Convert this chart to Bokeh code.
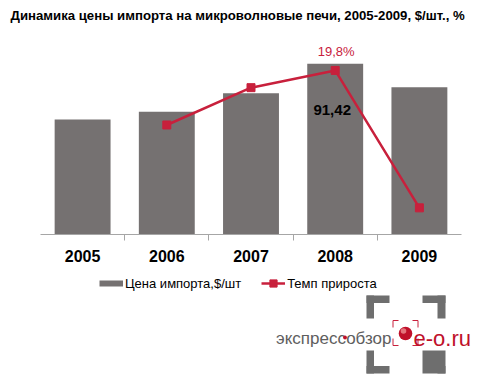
from bokeh.plotting import figure
from bokeh.models import Range1d, FixedTicker, Legend, LegendItem
from bokeh.embed import file_html
from bokeh.resources import INLINE
from bokeh.core.properties import value

# ---- data ----
years = ["2005", "2006", "2007", "2008", "2009"]
price = [61.6, 65.7, 75.7, 91.42, 78.9]          # Цена импорта, $/шт
growth_years = ["2006", "2007", "2008", "2009"]
growth = [6.5, 15.6, 19.8, -13.7]                # Темп прироста, %
title_text = "Динамика цены импорта на микроволновые печи, 2005-2009,  $/шт., %"
series_names = ["Цена импорта,$/шт", "Темп прироста"]

BAR = "#757171"
RED = "#C8203C"
AXIS = "#A6A6A6"
FONT = "Liberation Sans"


def panel(h):
    f = figure(width=480, height=h, x_range=Range1d(0, 480), y_range=Range1d(h, 0),
               output_backend="svg", toolbar_location=None, min_border=0,
               x_axis_location=None, y_axis_location=None, title=None)
    f.outline_line_color = None
    f.xgrid.visible = False
    f.ygrid.visible = False
    return f


# ---- title strip ----
H0 = 30
t = panel(H0)
t.text(x=[10], y=[15], text=[title_text], text_align="left", text_baseline="middle",
       text_font=value(FONT), text_font_size="13.2px", text_font_style="bold",
       text_color="black")

# ---- chart ----
xs = [i + 1 for i in range(len(years))]
gx = [years.index(y) + 1 for y in growth_years]

H1 = 240
p = figure(width=480, height=H1, x_range=Range1d(0.5, len(years) + 0.5),
           y_range=Range1d(0, 103.9), output_backend="svg", toolbar_location=None,
           y_axis_location=None, title=None, min_border_left=40, min_border_right=19,
           min_border_top=10, min_border_bottom=36)
p.extra_y_ranges = {"g": Range1d(-20.2, 27.1)}
p.outline_line_color = None
p.xgrid.visible = False
p.ygrid.visible = False

bars = p.vbar(x=xs, top=price, width=0.664, fill_color=BAR, line_color=None)

ln = p.line(x=gx, y=growth, y_range_name="g", line_color=RED, line_width=2.5)
mk = p.scatter(x=gx, y=growth, y_range_name="g", marker="square", size=8,
               fill_color=RED, line_color=RED)

i_max = price.index(max(price))
g_idx = growth_years.index(years[i_max])
p.text(x=[xs[i_max]], y=[growth[g_idx]], y_range_name="g",
       text=[f"{growth[g_idx]:.1f}".replace(".", ",") + "%"],
       text_align="center", text_baseline="middle", y_offset=-19, x_offset=1,
       text_font=value(FONT), text_font_size="13px", text_color=RED)
p.text(x=[xs[i_max]], y=[price[i_max]],
       text=[f"{price[i_max]:.2f}".replace(".", ",")],
       text_align="center", text_baseline="middle", y_offset=46, x_offset=-3,
       text_font=value(FONT), text_font_size="15px", text_font_style="bold",
       text_color="black")

ax = p.xaxis[0]
ax.ticker = FixedTicker(ticks=xs, minor_ticks=[x + 0.5 for x in xs[:-1]])
ax.major_label_overrides = {x: y for x, y in zip(xs, years)}
ax.major_tick_line_color = None
ax.major_tick_out = 0
ax.major_tick_in = 0
ax.minor_tick_out = 6
ax.minor_tick_in = 0
ax.minor_tick_line_color = AXIS
ax.axis_line_color = AXIS
ax.major_label_standoff = 9
ax.major_label_text_font = FONT
ax.major_label_text_font_size = "16px"
ax.major_label_text_font_style = "bold"
ax.major_label_text_color = "black"

# ---- legend + logo panel (pixel coordinates, origin at the panel's top-left) ----
H2 = 382 - H0 - H1
oy = H0 + H1
q = panel(H2)

# swatch renderers (their only point lies outside the visible panel)
sw_bar = q.line(x=[-50, -40], y=[-50, -50], line_color=BAR, line_width=6, line_cap="butt")
sw_line = q.line(x=[-50, -40], y=[-50, -50], line_color=RED, line_width=2.5)
sw_mark = q.scatter(x=[-50], y=[-50], marker="square", fill_color=RED, line_color=RED)
legend = Legend(items=[LegendItem(label=series_names[0], renderers=[sw_bar]),
                       LegendItem(label=series_names[1], renderers=[sw_line, sw_mark])],
                orientation="horizontal", location=(99, H2 - (292 - oy)),
                glyph_width=24, glyph_height=18, label_height=18,
                label_standoff=2, spacing=20, padding=0, margin=0,
                label_text_font=FONT, label_text_font_size="13px",
                label_text_color="black",
                background_fill_alpha=0, border_line_color=None)
q.add_layout(legend, "center")

GREY = "#6E6E6E"
L = [366, 366, 422, 437, 366, 366, 422, 437]
R = [389, 373.5, 445, 445, 373.5, 389, 445, 445]
T = [295, 295, 295, 295, 350, 365.5, 350, 365.5]
B = [302.5, 318, 302.5, 318, 373, 373, 373, 373]
q.quad(left=L, right=R, top=[v - oy for v in T], bottom=[v - oy for v in B],
       fill_color=GREY, line_color=None)
sx0 = [392.5, 392.5, 392.5, 392.5, 417.5, 417.5, 417.5, 417.5]
sy0 = [320, 320, 345, 345, 320, 320, 345, 345]
sx1 = [398, 392.5, 398, 392.5, 412, 417.5, 412, 417.5]
sy1 = [320, 327, 345, 338, 320, 327, 345, 338]
q.segment(x0=sx0, y0=[v - oy for v in sy0], x1=sx1, y1=[v - oy for v in sy1],
          line_color=RED, line_width=1)
q.circle(x=[405], y=[333 - oy], radius=6.8, fill_color="#C0102A", line_color=None)
q.circle(x=[403], y=[330.5 - oy], radius=2.8, fill_color="#F2A0A0",
         fill_alpha=0.7, line_color=None)
q.text(x=[391], y=[338 - oy], text=["экспрессобзор"], text_align="right",
       text_baseline="alphabetic", text_font=value(FONT), text_font_size="17px",
       text_color="#5E5E5E")
q.circle(x=[344.5], y=[337 - oy], radius=1.9, fill_color="#C0102A", line_color=None)
q.text(x=[413], y=[338 - oy], text=["e-o.ru"], text_align="left",
       text_baseline="alphabetic", text_font=value(FONT), text_font_size="22px",
       text_color="#C0102A")

open("out.html", "w").write(file_html([t, p, q], INLINE))
